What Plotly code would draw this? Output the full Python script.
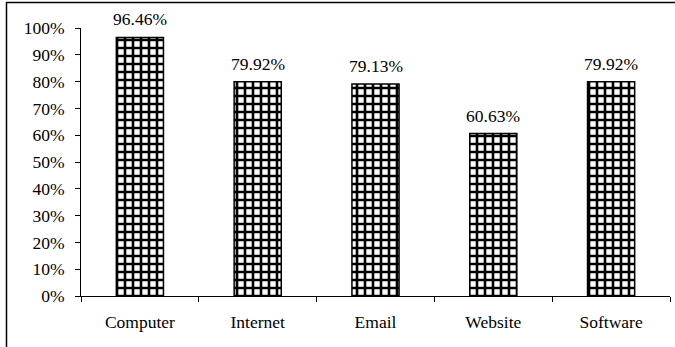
import plotly.graph_objects as go

categories = ["Computer", "Internet", "Email", "Website", "Software"]
shares = [0.9646, 0.7992, 0.7913, 0.6063, 0.7992]
labels = ["96.46%", "79.92%", "79.13%", "60.63%", "79.92%"]

W, H = 675, 347
ML, MR, MT, MB = 81, 5, 28, 51
plot_w = W - ML - MR
plot_h = H - MT - MB

font_family = "Liberation Serif, Times New Roman, serif"
FS = 17.5

fig = go.Figure(
    go.Bar(
        x=categories,
        y=shares,
        width=0.4,
        cliponaxis=False,
        marker=dict(
            color="white",
            line=dict(color="black", width=1.5),
            pattern=dict(shape="+", size=8, solidity=0.55,
                         fgcolor="black", bgcolor="white", fillmode="replace"),
        ),
    )
)

# value labels sitting just above each bar
for cat, val, lab in zip(categories, shares, labels):
    fig.add_annotation(
        x=cat, y=val, text=lab, showarrow=False,
        xanchor="center", yanchor="bottom", yshift=6,
        font=dict(family=font_family, size=FS, color="black"),
    )

# outer frame around the chart (top and left edges fall inside the page)
fig.add_shape(
    type="rect", xref="paper", yref="paper",
    x0=(6.5 - ML) / plot_w, x1=1.2,
    y0=-0.4, y1=1 + (MT - 2.5) / plot_h,
    line=dict(color="black", width=1.5), layer="below",
)

fig.update_layout(
    width=W, height=H,
    margin=dict(l=ML, r=MR, t=MT, b=MB),
    paper_bgcolor="white", plot_bgcolor="white",
    showlegend=False,
    bargap=0.6,
    font=dict(family=font_family, size=FS, color="black"),
    xaxis=dict(
        showline=True, linecolor="black", linewidth=1,
        ticks="outside", ticklen=5, tickcolor="black", tickson="boundaries",
        showgrid=False, ticklabelstandoff=10,
        tickfont=dict(family=font_family, size=FS, color="black"),
    ),
    yaxis=dict(
        range=[0, 1], dtick=0.1, tickformat=".0%",
        showline=True, linecolor="black", linewidth=1,
        ticks="outside", ticklen=5, tickcolor="black",
        showgrid=False, zeroline=False, ticklabelstandoff=7,
        tickfont=dict(family=font_family, size=FS, color="black"),
    ),
)

fig.write_html("out.html")
